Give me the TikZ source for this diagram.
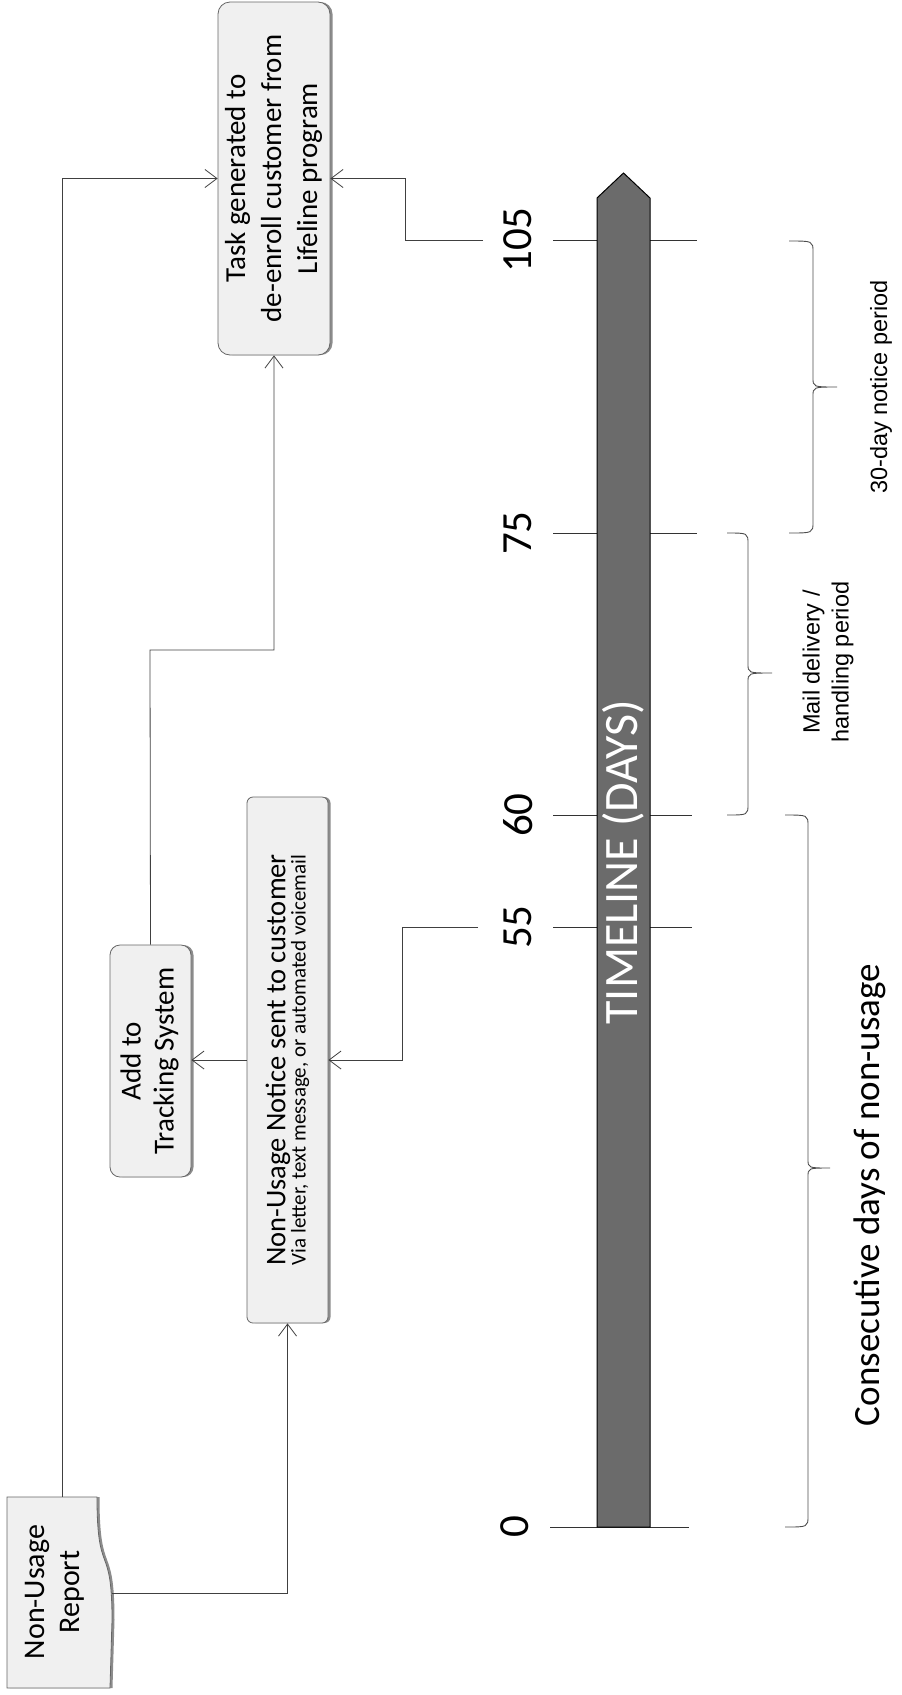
\documentclass[tikz,border=0pt]{standalone}
\usepackage{fontspec}
\setmainfont{Carlito}
\newfontfamily\arialf{Liberation Sans}
\usetikzlibrary{arrows.meta,shadows}
\begin{document}
\begin{tikzpicture}[x=1pt,y=-1pt,
  conn/.style={line width=0.8pt, draw=black!75},
  arr/.style={conn, -{Straight Barb[length=12pt,width=18pt,line width=0.8pt]}},
  boxshadow/.style={drop shadow={shadow xshift=2.5pt, shadow yshift=0pt, fill=black!45, opacity=1}},
  box/.style={draw=black!60, line width=0.8pt, fill=gray!12, inner sep=0pt, boxshadow},
  tickline/.style={line width=0.9pt, draw=black!80},
  bracepath/.style={line width=0.9pt, draw=black!70},
  ticklabel/.style={rotate=90, font=\fontsize{43}{48}\selectfont, inner sep=0pt}
  ]
\useasboundingbox (0,0) rectangle (902,1695);

% boxes
\node[box, rounded corners=12pt, minimum width=112pt, minimum height=353pt] (task) at (274,178.5)
  {\rotatebox{90}{\fontsize{29}{36}\selectfont\begin{tabular}{@{}c@{}}Task generated to\\de-enroll customer from\\Lifeline program\end{tabular}}};
\node[box, rounded corners=10pt, minimum width=81pt, minimum height=232pt] (add) at (150.5,1061)
  {\rotatebox{90}{\fontsize{29}{33}\selectfont\begin{tabular}{@{}c@{}}Add to\\Tracking System\end{tabular}}};
\node[box, rounded corners=6pt, minimum width=81pt, minimum height=526pt] (notice) at (287.5,1060)
  {\rotatebox{90}{\raisebox{6pt}{\begin{tabular}{@{}c@{}}\fontsize{28.5}{32}\selectfont Non-Usage Notice sent to customer\\[2pt]\fontsize{21}{24}\selectfont Via letter, text message, or automated voicemail\end{tabular}}}};

% report document shape
\path[draw=black!60, line width=0.8pt, fill=gray!12, boxshadow]
  (7,1497) -- (97,1497) .. controls (97,1580) and (112,1540) .. (112,1620) -- (110,1688) -- (7,1688) -- cycle;
\node[inner sep=0pt] (report) at (55,1592)
  {\rotatebox{90}{\fontsize{30}{35}\selectfont\begin{tabular}{@{}c@{}}Non-Usage\\Report\end{tabular}}};

% ticks
\draw[tickline] (553,240) -- (697,240);
\draw[tickline] (553,533) -- (697,533);
\draw[tickline] (553,815) -- (692,815);
\draw[tickline] (553,927) -- (692,927);
\draw[tickline] (550,1527) -- (689,1527);

% timeline bar
\path[fill=black!58, draw=black, line width=1pt] (597,1527) -- (597,198) -- (623.5,173) -- (650,198) -- (650,1527) -- cycle;
\node[rotate=90, text=white, font=\fontsize{48}{52}\selectfont, inner sep=0pt] (tl) at (623.5,862) {TIMELINE (DAYS)};

% tick labels
\node[ticklabel] (t105) at (518,240) {105};
\node[ticklabel] (t75) at (518,533) {75};
\node[ticklabel] (t60) at (518,815) {60};
\node[ticklabel] (t55) at (518,927) {55};
\node[ticklabel] (t0) at (515,1527) {0};

% braces
\draw[bracepath] (789,241) .. controls (813,241) .. (813,252) -- (813,378) .. controls (813,387) .. (837,387)
  .. controls (813,387) .. (813,396) -- (813,522) .. controls (813,533) .. (789,533);
\draw[bracepath] (727,533) .. controls (748,533) .. (748,544) -- (748,664) .. controls (748,673) .. (772,673)
  .. controls (748,673) .. (748,682) -- (748,804) .. controls (748,815) .. (727,815);
\draw[bracepath] (785,815) .. controls (808,815) .. (808,826) -- (808,1159) .. controls (808,1168) .. (830,1168)
  .. controls (808,1168) .. (808,1177) -- (808,1516) .. controls (808,1527) .. (785,1527);

% brace labels
\node[rotate=90, font=\arialf\fontsize{23.5}{28}\selectfont] (l30) at (881,387) {30-day notice period};
\node[rotate=90, align=center, font=\arialf\fontsize{23.5}{29}\selectfont] (lmail) at (828,662) {Mail delivery /\\handling period};
\node[rotate=90, font=\fontsize{37}{42}\selectfont] (lcons) at (870,1195) {Consecutive days of non-usage};

% connectors
\coordinate (c105) at (483,240);
\coordinate (c55) at (478,927);
\coordinate (rtop) at (62,1497);
\coordinate (rright) at (112,1593);
\coordinate (v105) at (405,240);
\coordinate (v55) at (402,927);
\coordinate (vadd) at (150,650);

\draw[arr] (rtop) |- (task.west);
\draw[arr] (c105) -- (v105) |- (task.east);
\draw[arr] (add.north) -- (vadd) -| (task.south);
\draw[arr] (notice.west) -- (notice.west -| add.east);
\draw[arr] (c55) -- (v55) |- (notice.east);
\draw[arr] (rright) -| (notice.south);
\end{tikzpicture}
\end{document}
